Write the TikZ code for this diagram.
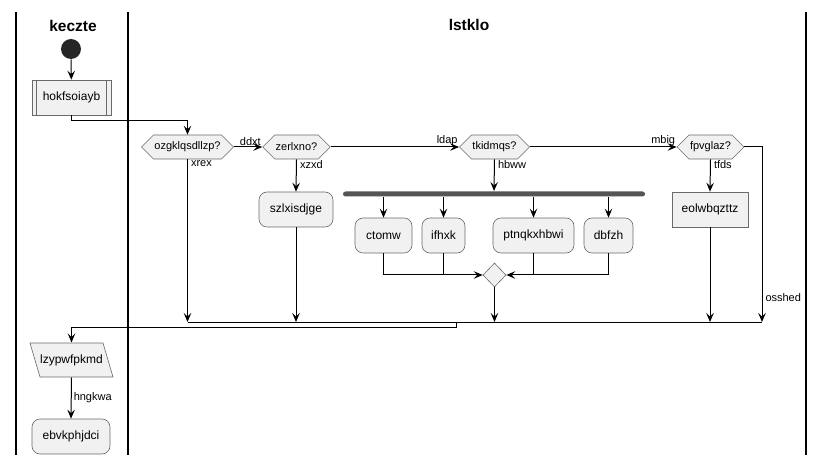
\documentclass[tikz,border=0pt]{standalone}
\usepackage{fontspec}
\setmainfont{Liberation Sans}
\usetikzlibrary{arrows.meta,shapes.geometric,shapes.symbols}
\definecolor{boxfill}{HTML}{F1F1F1}
\definecolor{boxline}{HTML}{6A6A6A}
\definecolor{barfill}{HTML}{555555}
\tikzset{
  box/.style={draw=boxline,fill=boxfill,line width=0.6pt,minimum height=35pt,
    inner sep=0pt,font=\fontsize{12}{14}\selectfont},
  action/.style={box,rounded corners=8pt},
  test/.style={box,signal,signal to=west and east,signal pointer angle=90,
    minimum height=24pt,inner xsep=1pt,font=\fontsize{11}{13}\selectfont},
  lbl/.style={font=\fontsize{11}{13}\selectfont,inner sep=1pt},
  lane/.style={line width=1.5pt},
  title/.style={font=\fontsize{15.5}{17}\selectfont\bfseries}
}
\begin{document}
\begin{tikzpicture}[x=1pt,y=-1pt,line width=1pt,
  >={Stealth[length=9pt,width=7.5pt,inset=3.5pt]}]
\useasboundingbox (0,0) rectangle (825,465);
% swimlanes
\draw[lane] (16,12) -- (16,455);
\draw[lane] (128,12) -- (128,455);
\draw[lane] (806,12) -- (806,455);
\node[title] (laneA) at (73,26) {keczte};
\node[title] (laneB) at (469,25) {lstklo};

% left lane
\node[circle,fill=black!85,minimum size=20pt,inner sep=0pt] (start) at (71,49) {};
\node[box,minimum width=79pt] (hokf) at (71.5,97.5) {hokfsoiayb};
\draw[boxline,line width=0.6pt] ([xshift=5pt]hokf.north west) -- ([xshift=5pt]hokf.south west)
  ([xshift=-5pt]hokf.north east) -- ([xshift=-5pt]hokf.south east);

% tests
\node[test,minimum width=89pt] (ozgk) at (187.5,147) {ozgklqsdllzp?};
\node[test,minimum width=66pt] (zerl) at (296.5,147) {zerlxno?};
\node[test,minimum width=65pt] (tkid) at (494.5,147) {tkidmqs?};
\node[test,minimum width=65pt] (fpvg) at (710.5,147) {fpvglaz?};

% actions
\node[action,minimum width=74pt] (szlx) at (296,209.5) {szlxisdjge};
\node[fill=barfill,minimum width=302pt,minimum height=5pt,inner sep=0pt,rounded corners=2.5pt] (fork) at (494,194) {};
\node[action,minimum width=57pt] (ctom) at (383.5,235.5) {ctomw};
\node[action,minimum width=43pt] (ifhx) at (443.5,235.5) {ifhxk};
\node[action,minimum width=81pt] (ptnq) at (533.5,235.5) {ptnqkxhbwi};
\node[action,minimum width=49pt] (dbfz) at (608.5,235.5) {dbfzh};
\node[box,diamond,minimum width=23pt,minimum height=24pt] (join) at (494.5,275) {};
\node[box,minimum width=76pt] (eolw) at (710,209.5) {eolwbqzttz};

% merge points
\coordinate (endA) at (187.5,322);
\coordinate (endB) at (296,322);
\coordinate (endC) at (494.5,322);
\coordinate (endD) at (710,322);
\coordinate (endE) at (762,322);
\coordinate (back) at (456,322);

% left lane, lower part
\filldraw[draw=boxline,fill=boxfill,line width=0.6pt] (30,343) -- (103,343) -- (113,377) -- (40,377) -- cycle;
\node[minimum width=83pt,minimum height=34pt,inner sep=0pt,font=\fontsize{12}{14}\selectfont] (lzyp) at (71.5,360) {lzypwfpkmd};
\node[action,minimum width=78pt] (ebvk) at (71,436.5) {ebvkphjdci};

% connectors
\draw[->] (start) -- (hokf);
\draw[->] (hokf.south) -- ++(0,5.5) -| (ozgk.north);
\draw[->] (ozgk.east) -- node[lbl,pos=1,anchor=south east] {ddxt} (zerl.west);
\draw[->] (zerl.east) -- node[lbl,pos=1,anchor=south east] {ldap} (tkid.west);
\draw[->] (tkid.east) -- node[lbl,pos=1,anchor=south east] {mbig} (fpvg.west);
\draw[->] (ozgk.south) -- node[lbl,pos=0,anchor=north west,xshift=2pt] {xrex} (endA);
\draw[->] (zerl.south) -- node[lbl,pos=0,anchor=north west,xshift=2pt] {xzxd} (szlx.north);
\draw[->] (szlx.south) -- (endB);
\draw[->] (tkid.south) -- node[lbl,pos=0,anchor=north west,xshift=2pt] {hbww} (fork.north);
\foreach \job in {ctom,ifhx,ptnq,dbfz}
  \draw[->] (\job.north |- fork.south) -- (\job.north);
\draw[->] (ctom.south) |- (join.west);
\draw (ifhx.south) -- (ifhx.south |- join.west);
\draw[->] (dbfz.south) |- (join.east);
\draw (ptnq.south) -- (ptnq.south |- join.east);
\draw[->] (join.south) -- (endC);
\draw[->] (fpvg.south) -- node[lbl,pos=0,anchor=north west,xshift=2pt] {tfds} (eolw.north);
\draw[->] (eolw.south) -- (endD);
\draw[->] (fpvg.east) -| node[lbl,pos=0.93,anchor=west,xshift=2pt] {osshed} (endE);
\draw (endA) -- (endE);
\draw[->] (back) -- ++(0,5) -| (lzyp.north);
\draw[->] (lzyp.south) -- node[lbl,right,xshift=1pt] {hngkwa} (ebvk.north);
\end{tikzpicture}
\end{document}
